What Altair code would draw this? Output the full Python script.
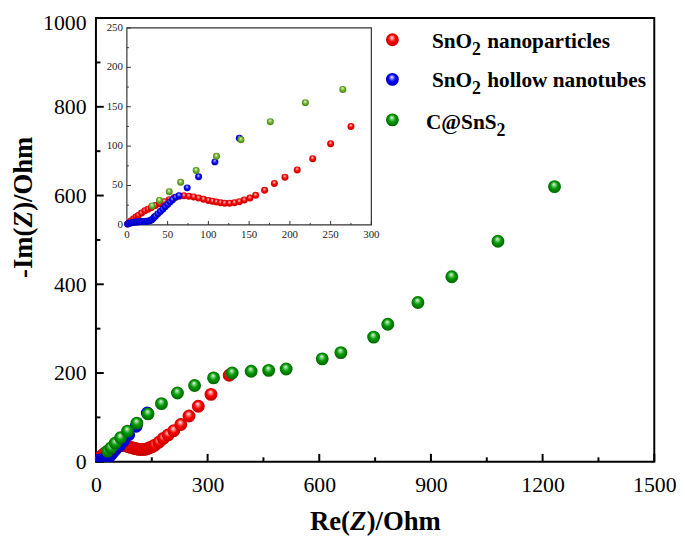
import altair as alt
import pandas as pd

# ---------------- data ----------------
red_x = [1, 3, 5, 8, 11, 14, 18, 22, 26, 30, 35, 40, 46, 52, 58, 64, 70, 76, 82, 88,
         94, 100, 105, 110, 115, 120, 126, 132, 138, 144, 151, 158, 169, 181, 194,
         209, 228, 250, 275, 309, 358]
red_y = [1, 3, 5, 7.5, 10, 12, 15, 18, 20, 22, 24.5, 27, 29.5, 32, 34.5, 36.5, 37,
         36.5, 35.5, 34, 32.5, 31, 30, 29, 28, 27.5, 27.5, 28, 29.5, 31.5, 34, 37.5,
         44, 52.7, 60.6, 69.8, 84, 103, 125, 152, 195]

blue_x = [1, 3, 5, 7, 9, 11, 13, 15, 17, 19, 21, 23, 25, 27, 29, 31, 33, 35, 38, 41,
          44, 47, 50, 53, 56, 60, 64, 74, 88, 108, 138]
blue_y = [1, 2, 2.5, 3, 3.3, 3.6, 3.8, 4, 4.2, 4.3, 4.4, 4.5, 4.6, 4.8, 5.5, 7, 9, 11,
          14, 17, 20, 23, 26, 29, 32, 35, 37, 47, 61, 80, 110]

green_x = [31, 40, 52, 66, 85, 110, 140, 176, 219, 265, 316, 366, 417, 464, 511, 608,
           658, 746, 784, 865, 956, 1080, 1232]
green_y = [24, 31, 42, 54, 69, 87, 108, 131, 155, 172, 189, 200, 204, 206, 209, 232,
           246, 281, 310, 359, 417, 497, 620]

# legend entries: (main text, subscript, rest)
legend_parts = [("SnO", "2", "nanoparticles"),
                ("SnO", "2", "hollow nanotubes"),
                ("C@SnS", "2", "")]

x_major = [0, 300, 600, 900, 1200, 1500]
x_minor = [150, 450, 750, 1050, 1350]
y_major = [0, 200, 400, 600, 800, 1000]
y_minor = [100, 300, 500, 700, 900]

in_x_major = [0, 50, 100, 150, 200, 250, 300]
in_x_minor = [25, 75, 125, 175, 225, 275]
in_y_major = [0, 50, 100, 150, 200, 250]
in_y_minor = [25, 75, 125, 175, 225]

SERIF = "Liberation Serif"


def ball(light, mid, dark):
    return {
        "gradient": "radial",
        "x1": 0.45, "y1": 0.3, "r1": 0,
        "x2": 0.5, "y2": 0.5, "r2": 0.55,
        "stops": [
            {"offset": 0, "color": "#ffffff"},
            {"offset": 0.18, "color": light},
            {"offset": 0.5, "color": mid},
            {"offset": 1, "color": dark},
        ],
    }


RED = ball("#ff9a9a", "#ff0000", "#b80000")
BLUE = ball("#9a9aff", "#0000ff", "#0000a8")
GREEN = ball("#8fd88f", "#009a00", "#005c00")
GREEN_IN = ball("#c6e89a", "#6cb32a", "#3f7a10")

df_red = pd.DataFrame({"x": red_x, "y": red_y})
df_blue = pd.DataFrame({"x": blue_x, "y": blue_y})
df_green = pd.DataFrame({"x": green_x, "y": green_y})
one = pd.DataFrame({"a": [0]})

# ---------------- main plot ----------------
mx = alt.Scale(domain=[0, 1500], nice=False, zero=False)
my = alt.Scale(domain=[0, 1000], nice=False, zero=False)
ax_x = alt.Axis(values=x_major, title=None, grid=False, domain=False, ticks=False,
                labelFont=SERIF, labelFontSize=22, labelColor="black",
                labelPadding=13, labelFlush=False, labelOverlap=False, format="d")
ax_y = alt.Axis(values=y_major, title=None, grid=False, domain=False, ticks=False,
                labelFont=SERIF, labelFontSize=22, labelColor="black",
                labelPadding=10, labelFlush=False, labelOverlap=False, format="d",
                labelOffset={"condition": {"test": "datum.value >= 1000", "value": 5},
                             "value": 0})


def MX(f):
    return alt.X(f, type="quantitative", scale=mx, axis=ax_x)


def MY(f):
    return alt.Y(f, type="quantitative", scale=my, axis=ax_y)


def MXd(v):
    return alt.XDatum(v, scale=mx, axis=ax_x)


def MYd(v):
    return alt.YDatum(v, scale=my, axis=ax_y)


def xticks(vals, length):
    return alt.Chart(pd.DataFrame({"x": vals})).mark_rule(
        color="black", strokeWidth=2).encode(
        x=MX("x"), y=MYd(0), y2=alt.Y2Datum(length))


def yticks(vals, length):
    return alt.Chart(pd.DataFrame({"y": vals})).mark_rule(
        color="black", strokeWidth=2).encode(
        y=MY("y"), x=MXd(0), x2=alt.X2Datum(length))


def pts(df, fill, size):
    return alt.Chart(df).mark_circle(fill=fill, opacity=1, fillOpacity=1,
                                     size=size, clip=True).encode(
        x=MX("x"), y=MY("y"))


def txt(s, x, y, size, weight="bold", style="normal", align="left", angle=0):
    return alt.Chart(one).mark_text(
        text=s, font=SERIF, fontSize=size, fontWeight=weight, fontStyle=style,
        align=align, baseline="alphabetic", angle=angle, color="black").encode(
        x=alt.value(x), y=alt.value(y))


def legend_ball(fill, y):
    return alt.Chart(one).mark_circle(fill=fill, opacity=1, size=170).encode(
        x=alt.value(300), y=alt.value(y))


legend_layers = []
rows = [(22, 30, 340, 380.6, 396), (62, 70, 340, 380.6, 396),
        (103, 112, 334, 405.4, 0)]
fills = [RED, BLUE, GREEN]
for (main_t, sub_t, rest_t), (by, ty, x0, xs, xr), f in zip(legend_parts, rows, fills):
    legend_layers.append(legend_ball(f, by))
    legend_layers.append(txt(main_t, x0, ty, 21.5))
    legend_layers.append(txt(sub_t, xs, ty + 7, 18))
    if rest_t:
        legend_layers.append(txt(rest_t, xr, ty, 21.5))

titles = [
    txt("Re(", 216.5, 518, 27),
    txt("Z", 257, 518, 27, style="italic"),
    txt(")/Ohm", 274, 518, 27),
    txt("-Im(", -65, 212, 27, align="right", angle=270),
    txt("Z", -65, 212, 27, style="italic", angle=270),
    txt(")/Ohm", -65, 195, 27, angle=270),
]

main = alt.layer(
    xticks(x_major, 17.8), xticks(x_minor, 10),
    yticks(y_major, 21), yticks(y_minor, 12),
    pts(df_red, RED, 170), pts(df_blue, BLUE, 170), pts(df_green, GREEN, 170),
    *legend_layers, *titles,
)

# ---------------- inset ----------------
ix = alt.Scale(domain=[0, 300], range=[31.3, 278.7], nice=False, zero=False)
iy = alt.Scale(domain=[0, 250], range=[209.3, 10], nice=False, zero=False)


def IX(f):
    return alt.X(f, type="quantitative", scale=ix, axis=None)


def IY(f):
    return alt.Y(f, type="quantitative", scale=iy, axis=None)


def IXd(v):
    return alt.XDatum(v, scale=ix, axis=None)


def IYd(v):
    return alt.YDatum(v, scale=iy, axis=None)


frame = alt.Chart(one).mark_rect(fill="white", stroke="#333333", strokeWidth=1.2).encode(
    x=IXd(0), x2=alt.X2Datum(300), y=IYd(0), y2=alt.Y2Datum(250))


def ixticks(vals, length):
    return alt.Chart(pd.DataFrame({"x": vals})).mark_rule(
        color="#333333", strokeWidth=1).encode(
        x=IX("x"), y=IYd(0), y2=alt.Y2Datum(length))


def iyticks(vals, length):
    return alt.Chart(pd.DataFrame({"y": vals})).mark_rule(
        color="#333333", strokeWidth=1).encode(
        y=IY("y"), x=IXd(0), x2=alt.X2Datum(length))


ix_labels = alt.Chart(pd.DataFrame({"x": in_x_major})).mark_text(
    font=SERIF, fontSize=11, color="#222222", baseline="top", dy=4).encode(
    x=IX("x"), y=IYd(0), text=alt.Text("x:Q"))
iy_labels = alt.Chart(pd.DataFrame({"y": in_y_major})).mark_text(
    font=SERIF, fontSize=11, color="#222222", align="right", baseline="middle",
    dx=-4).encode(y=IY("y"), x=IXd(0), text=alt.Text("y:Q"))


def ipts(df, fill):
    return alt.Chart(df).transform_filter(
        "datum.x <= 300 && datum.y <= 250").mark_circle(
        fill=fill, opacity=1, fillOpacity=1, size=50).encode(
        x=IX("x"), y=IY("y"))


inset = alt.layer(
    frame,
    ixticks(in_x_major, 5), ixticks(in_x_minor, 2.5),
    iyticks(in_y_major, 5), iyticks(in_y_minor, 2.5),
    ix_labels, iy_labels,
    ipts(df_red, RED), ipts(df_blue, BLUE), ipts(df_green, GREEN_IN),
)

chart = alt.layer(main, inset).resolve_scale(
    x="independent", y="independent"
).properties(
    width=565, height=449,
    autosize=alt.AutoSizeParams(type="none"),
    padding={"left": 89, "top": 7, "right": 23, "bottom": 78},
    background="white",
).configure_view(stroke="black", strokeWidth=2)

chart.save("out.html", embed_options={"renderer": "svg", "actions": False})
